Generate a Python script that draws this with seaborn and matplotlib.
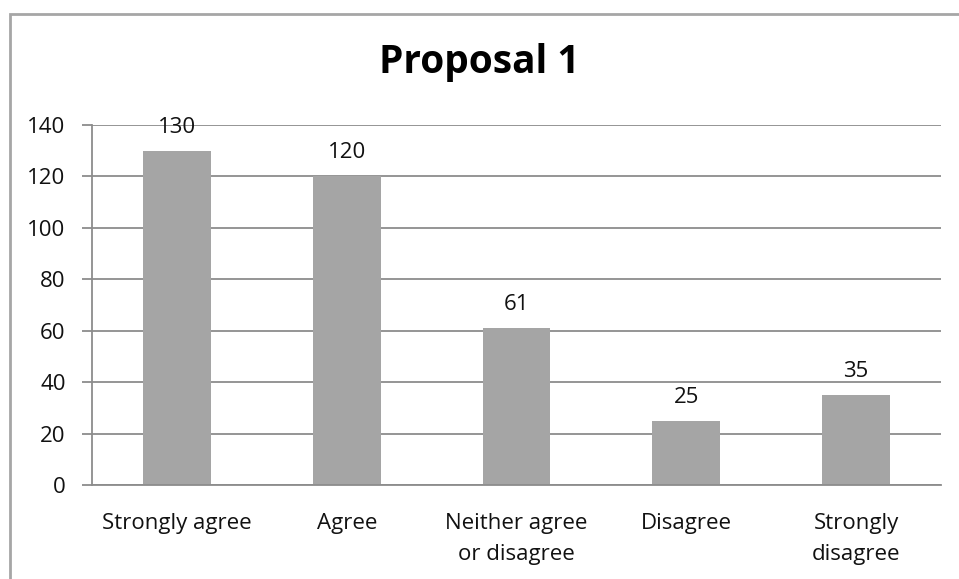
import matplotlib
matplotlib.use("Agg")
import matplotlib.pyplot as plt
from matplotlib.patches import Rectangle
import seaborn as sns
import pandas as pd

categories = ["Strongly agree", "Agree", "Neither agree\nor disagree", "Disagree", "Strongly\ndisagree"]
responses = [130, 120, 61, 25, 35]
y_ticks = [0, 20, 40, 60, 80, 100, 120, 140]

df = pd.DataFrame({"answer": categories, "count": responses})

sns.set_style("white")
plt.rcParams['font.family'] = ['Open Sans', 'DejaVu Sans']

fig = plt.figure(figsize=(9.59, 5.79), dpi=100)
W, H = 959, 579
fs = 16

# outer chart frame, Excel style
fig.patches.append(Rectangle((9.5 / W, -0.1), 1.2, 1.1 - 13.5 / H, transform=fig.transFigure,
                             fill=False, edgecolor="#a6a6a6", lw=2))

ax = fig.add_axes([92 / W, (H - 485) / H, 849 / W, 360 / H])
sns.barplot(data=df, x="answer", y="count", color="#a5a5a5", width=0.4,
            saturation=1, linewidth=0, ax=ax, zorder=3)

ax.set_xlim(-0.5, len(categories) - 0.5)
ax.set_ylim(0, 140)
ax.set_yticks(y_ticks)
ax.set_xlabel("")
ax.set_ylabel("")

ax.grid(axis="y", color="#8c8c8c", lw=1.3, zorder=0)
ax.set_axisbelow(True)
for side in ["top", "right"]:
    ax.spines[side].set_visible(False)
for side in ["left", "bottom"]:
    ax.spines[side].set_color("#8c8c8c")
    ax.spines[side].set_linewidth(1.3)
    ax.spines[side].set_zorder(4)

ax.set_xticks([i - 0.5 for i in range(len(categories) + 1)], minor=True)
ax.tick_params(axis="x", which="major", length=0, pad=20, labelsize=fs, labelcolor="#111111")
ax.tick_params(axis="x", which="minor", length=7, width=1.3, color="#8c8c8c", direction="out")
ax.tick_params(axis="y", length=7, width=1.3, color="#8c8c8c", direction="out", left=True,
               pad=12, labelsize=fs, labelcolor="#111111")
for lab in ax.get_xticklabels():
    lab.set_multialignment("center")
    lab.set_linespacing(1.65)

ax.bar_label(ax.containers[0], padding=9.5, fontsize=fs, color="#111111")

fig.text(0.5, (H - 63) / H, "Proposal 1", ha="center", va="center",
         fontsize=28, fontweight="bold", color="black")

fig.savefig("out.png", dpi=100)
